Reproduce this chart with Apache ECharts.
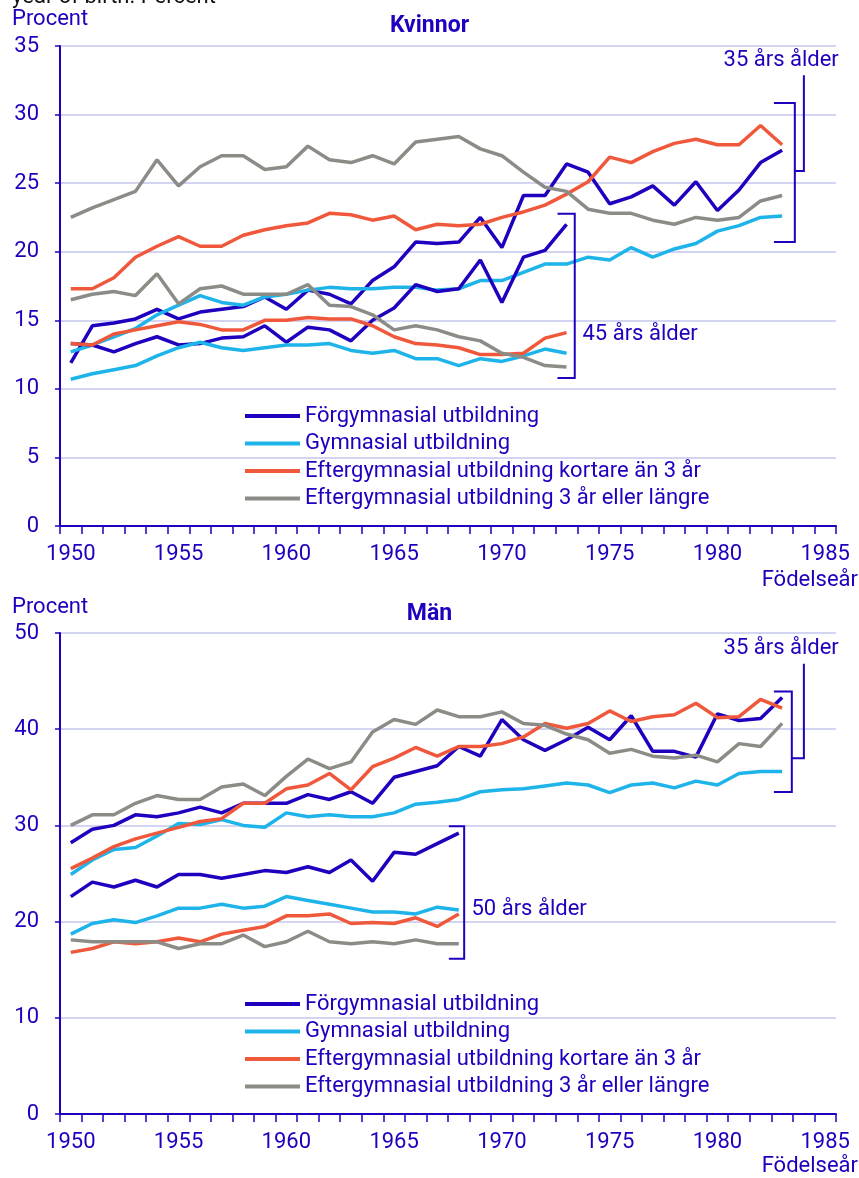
<!DOCTYPE html>
<html>
<head>
<meta charset="utf-8">
<script src="https://cdn.jsdelivr.net/npm/echarts@6/dist/echarts.min.js"></script>
<style>
  html, body { margin: 0; padding: 0; background: #fff; }
  #main { width: 859px; height: 1178px; }
</style>
</head>
<body>
<div id="main"></div>
<script>
// Födelseår (category axis)
var years = ['1950', '1951', '1952', '1953', '1954', '1955', '1956', '1957', '1958', '1959',
             '1960', '1961', '1962', '1963', '1964', '1965', '1966', '1967', '1968', '1969',
             '1970', '1971', '1972', '1973', '1974', '1975', '1976', '1977', '1978', '1979',
             '1980', '1981', '1982', '1983', '1984', '1985'];

var names = ['Förgymnasial utbildning', 'Gymnasial utbildning',
             'Eftergymnasial utbildning kortare än 3 år', 'Eftergymnasial utbildning 3 år eller längre'];

// Kvinnor, 35 års ålder (1950-1983)
var kv35Forgym = [11.9, 14.6, 14.8, 15.1, 15.8, 15.1, 15.6, 15.8, 16.0, 16.7, 15.8, 17.2,
                  16.9, 16.2, 17.9, 18.9, 20.7, 20.6, 20.7, 22.5, 20.3, 24.1, 24.1, 26.4,
                  25.8, 23.5, 24.0, 24.8, 23.4, 25.1, 23.0, 24.5, 26.5, 27.4];
var kv35Gym = [12.7, 13.2, 13.8, 14.4, 15.4, 16.1, 16.8, 16.3, 16.1, 16.7, 16.9, 17.2,
               17.4, 17.3, 17.3, 17.4, 17.4, 17.2, 17.3, 17.9, 17.9, 18.5, 19.1, 19.1,
               19.6, 19.4, 20.3, 19.6, 20.2, 20.6, 21.5, 21.9, 22.5, 22.6];
var kv35Kort = [17.3, 17.3, 18.1, 19.6, 20.4, 21.1, 20.4, 20.4, 21.2, 21.6, 21.9, 22.1,
                22.8, 22.7, 22.3, 22.6, 21.6, 22.0, 21.9, 22.0, 22.5, 22.9, 23.4, 24.2,
                25.1, 26.9, 26.5, 27.3, 27.9, 28.2, 27.8, 27.8, 29.2, 27.8];
var kv35Lang = [22.5, 23.2, 23.8, 24.4, 26.7, 24.8, 26.2, 27.0, 27.0, 26.0, 26.2, 27.7,
                26.7, 26.5, 27.0, 26.4, 28.0, 28.2, 28.4, 27.5, 27.0, 25.8, 24.7, 24.4,
                23.1, 22.8, 22.8, 22.3, 22.0, 22.5, 22.3, 22.5, 23.7, 24.1];

// Kvinnor, 45 års ålder (1950-1973)
var kv45Forgym = [13.3, 13.2, 12.7, 13.3, 13.8, 13.2, 13.3, 13.7, 13.8, 14.6, 13.4, 14.5,
                  14.3, 13.5, 15.0, 15.9, 17.6, 17.1, 17.3, 19.4, 16.3, 19.6, 20.1, 22.0];
var kv45Gym = [10.7, 11.1, 11.4, 11.7, 12.4, 13.0, 13.4, 13.0, 12.8, 13.0, 13.2, 13.2,
               13.3, 12.8, 12.6, 12.8, 12.2, 12.2, 11.7, 12.2, 12.0, 12.4, 12.9, 12.6];
var kv45Kort = [13.3, 13.2, 14.0, 14.3, 14.6, 14.9, 14.7, 14.3, 14.3, 15.0, 15.0, 15.2,
                15.1, 15.1, 14.6, 13.8, 13.3, 13.2, 13.0, 12.5, 12.5, 12.6, 13.7, 14.1];
var kv45Lang = [16.5, 16.9, 17.1, 16.8, 18.4, 16.2, 17.3, 17.5, 16.9, 16.9, 16.9, 17.6,
                16.1, 16.0, 15.4, 14.3, 14.6, 14.3, 13.8, 13.5, 12.6, 12.3, 11.7, 11.6];

// Män, 35 års ålder (1950-1983)
var man35Forgym = [28.2, 29.6, 30.0, 31.1, 30.9, 31.3, 31.9, 31.3, 32.3, 32.3, 32.3, 33.2,
                   32.7, 33.5, 32.3, 35.0, 35.6, 36.2, 38.2, 37.2, 41.0, 38.9, 37.8, 38.9,
                   40.2, 38.9, 41.4, 37.7, 37.7, 37.1, 41.6, 40.9, 41.1, 43.3];
var man35Gym = [24.9, 26.4, 27.5, 27.7, 28.9, 30.2, 30.1, 30.6, 30.0, 29.8, 31.3, 30.9,
                31.1, 30.9, 30.9, 31.3, 32.2, 32.4, 32.7, 33.5, 33.7, 33.8, 34.1, 34.4,
                34.2, 33.4, 34.2, 34.4, 33.9, 34.6, 34.2, 35.4, 35.6, 35.6];
var man35Kort = [25.5, 26.6, 27.8, 28.6, 29.2, 29.8, 30.4, 30.7, 32.3, 32.3, 33.8, 34.2,
                 35.4, 33.7, 36.1, 37.0, 38.1, 37.2, 38.2, 38.2, 38.5, 39.2, 40.6, 40.1,
                 40.6, 41.9, 40.8, 41.3, 41.5, 42.7, 41.2, 41.3, 43.1, 42.2];
var man35Lang = [30.0, 31.1, 31.1, 32.3, 33.1, 32.7, 32.7, 34.0, 34.3, 33.1, 35.1, 36.9,
                 35.9, 36.6, 39.7, 41.0, 40.5, 42.0, 41.3, 41.3, 41.8, 40.6, 40.4, 39.5,
                 38.9, 37.5, 37.9, 37.2, 37.0, 37.3, 36.6, 38.5, 38.2, 40.6];

// Män, 50 års ålder (1950-1968)
var man50Forgym = [22.6, 24.1, 23.6, 24.3, 23.6, 24.9, 24.9, 24.5, 24.9, 25.3, 25.1, 25.7,
                   25.1, 26.4, 24.2, 27.2, 27.0, 28.1, 29.2];
var man50Gym = [18.7, 19.8, 20.2, 19.9, 20.6, 21.4, 21.4, 21.8, 21.4, 21.6, 22.6, 22.2,
                21.8, 21.4, 21.0, 21.0, 20.8, 21.5, 21.2];
var man50Kort = [16.8, 17.2, 17.9, 17.7, 17.9, 18.3, 17.9, 18.7, 19.1, 19.5, 20.6, 20.6,
                 20.8, 19.8, 19.9, 19.8, 20.4, 19.5, 20.8];
var man50Lang = [18.1, 17.9, 17.9, 17.9, 17.9, 17.2, 17.7, 17.7, 18.6, 17.4, 17.9, 19.0,
                 17.9, 17.7, 17.9, 17.7, 18.1, 17.7, 17.7];

var navy = '#1e00be';
var colors = ['#1e00be', '#1eb4ea', '#f0583c', '#8c8c87'];
var gridColor = '#d3d3f2';
var font = 'Roboto';
var fs = 22;

var chart = echarts.init(document.getElementById('main'));

function lineSeries(g, sets) {
    return sets.map(function (d, i) {
        return {
            name: names[i],
            type: 'line',
            xAxisIndex: g,
            yAxisIndex: g,
            data: d,
            symbol: 'none',
            lineStyle: { width: 3.5, color: colors[i] },
            itemStyle: { color: colors[i] },
            z: 3
        };
    });
}

// brackets with age labels, placed in data coordinates (x = category index)
function bracketSeries(g, items) {
    return {
        type: 'custom',
        xAxisIndex: g,
        yAxisIndex: g,
        silent: true,
        clip: false,
        z: 4,
        data: items.map(function () { return [0, 0]; }),
        renderItem: function (params, api) {
            var b = items[params.dataIndex];
            var bw = api.size([1, 0])[0];
            function pt(x, y) {
                var i = Math.floor(x);
                var c = api.coord([i, y]);
                return [c[0] + (x - i) * bw, c[1]];
            }
            var st = { stroke: navy, lineWidth: 2, fill: null };
            var kids = [{
                type: 'polyline',
                shape: { points: [pt(b.x0, b.y0), pt(b.x1, b.y0), pt(b.x1, b.y1), pt(b.x0, b.y1)] },
                style: st
            }];
            if (b.px != null) {
                kids.push({
                    type: 'polyline',
                    shape: { points: [pt(b.x1, b.py), pt(b.px, b.py), pt(b.px, b.pt)] },
                    style: st
                });
            }
            var lp = pt(b.lx, b.ly);
            kids.push({
                type: 'text',
                x: lp[0],
                y: lp[1],
                style: {
                    text: b.label, fill: navy, font: fs + 'px ' + font,
                    align: b.align, verticalAlign: 'middle',
                    textAlign: b.align, textVerticalAlign: 'middle'
                }
            });
            return { type: 'group', children: kids };
        }
    };
}

function xAxis(g) {
    return {
        type: 'category',
        gridIndex: g,
        data: years,
        boundaryGap: true,
        axisLine: { lineStyle: { color: navy, width: 2 } },
        axisTick: { show: true, interval: 0, length: 8, lineStyle: { color: navy, width: 1.5 } },
        axisLabel: { interval: 4, color: navy, fontSize: fs, fontFamily: font, margin: 17 },
        splitLine: { show: false }
    };
}

function yAxis(g, max, step) {
    return {
        type: 'value',
        gridIndex: g,
        min: 0,
        max: max,
        interval: step,
        axisLine: { show: true, lineStyle: { color: navy, width: 2 } },
        axisTick: { show: true, length: 5, lineStyle: { color: navy, width: 1.5 } },
        axisLabel: { color: navy, fontSize: fs, fontFamily: font, margin: 21 },
        splitLine: { show: true, lineStyle: { color: gridColor, width: 2 } }
    };
}

function legend(top) {
    return {
        orient: 'vertical',
        left: 245,
        top: top,
        padding: 0,
        data: names,
        icon: 'rect',
        itemWidth: 55,
        itemHeight: 4,
        itemGap: 5.5,
        selectedMode: false,
        textStyle: { color: navy, fontSize: fs, fontFamily: font, lineHeight: 22 }
    };
}

var series = []
    .concat(lineSeries(0, [kv35Forgym, kv35Gym, kv35Kort, kv35Lang]))
    .concat(lineSeries(0, [kv45Forgym, kv45Gym, kv45Kort, kv45Lang]))
    .concat(lineSeries(1, [man35Forgym, man35Gym, man35Kort, man35Lang]))
    .concat(lineSeries(1, [man50Forgym, man50Gym, man50Kort, man50Lang]));

series.push(bracketSeries(0, [
    { x0: 32.62, x1: 33.59, y0: 30.85, y1: 20.7, px: 34.01, py: 25.88, pt: 32.87,
      label: '35 års ålder', lx: 35.63, ly: 33.96, align: 'right' },
    { x0: 22.58, x1: 23.38, y0: 22.77, y1: 10.8,
      label: '45 års ålder', lx: 23.74, ly: 13.96, align: 'left' }
]));
series.push(bracketSeries(1, [
    { x0: 32.62, x1: 33.45, y0: 43.93, y1: 33.46, px: 34.01, py: 36.97, pt: 46.8,
      label: '35 års ålder', lx: 35.63, ly: 48.37, align: 'right' },
    { x0: 17.54, x1: 18.25, y0: 29.9, y1: 16.14,
      label: '50 års ålder', lx: 18.59, ly: 21.3, align: 'left' }
]));

function txt(opts, text, extra, size) {
    var o = {
        type: 'text',
        style: { text: text, fill: navy, font: (extra || '') + (size || fs) + 'px ' + font }
    };
    for (var k in opts) o[k] = opts[k];
    return o;
}

chart.setOption({
    animation: false,
    backgroundColor: '#fff',
    textStyle: { fontFamily: font },
    grid: [
        { left: 60, top: 46, width: 776, height: 480, outerBoundsMode: 'none' },
        { left: 60, top: 633, width: 776, height: 481, outerBoundsMode: 'none' }
    ],
    xAxis: [xAxis(0), xAxis(1)],
    yAxis: [yAxis(0, 35, 5), yAxis(1, 50, 10)],
    legend: [legend(405), legend(993)],
    graphic: [
        { type: 'text', left: 12, top: -14,
          style: { text: 'year of birth. Percent', fill: '#111', font: fs + 'px ' + font } },
        txt({ left: 12, top: 8 }, 'Procent'),
        txt({ left: 'center', top: 15 }, 'Kvinnor', 'bold ', 23),
        txt({ right: 1, top: 569 }, 'Födelseår'),
        txt({ left: 12, top: 596 }, 'Procent'),
        txt({ left: 'center', top: 603 }, 'Män', 'bold ', 23),
        txt({ right: 1, top: 1155 }, 'Födelseår')
    ],
    series: series
});
</script>
</body>
</html>
